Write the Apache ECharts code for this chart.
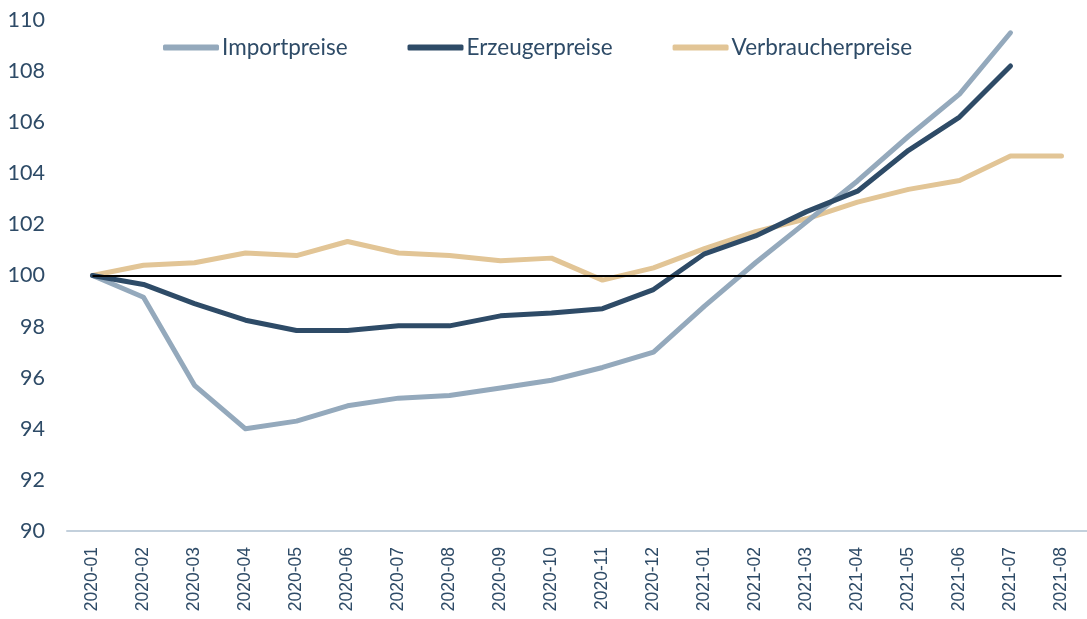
<!DOCTYPE html>
<html>
<head>
<meta charset="utf-8">
<script src="https://cdn.jsdelivr.net/npm/echarts@6/dist/echarts.min.js"></script>
<style>html,body{margin:0;padding:0;background:#fff}#c{width:1087px;height:619px}</style>
</head>
<body>
<div id="c"></div>
<script>
const categories = ['2020-01','2020-02','2020-03','2020-04','2020-05','2020-06','2020-07','2020-08','2020-09','2020-10','2020-11','2020-12','2021-01','2021-02','2021-03','2021-04','2021-05','2021-06','2021-07','2021-08'];
const importpreise = [100, 99.15, 95.7, 94.0, 94.3, 94.9, 95.2, 95.3, 95.6, 95.9, 96.4, 97.0, 98.8, 100.5, 102.1, 103.7, 105.45, 107.1, 109.5, null];
const erzeugerpreise = [100, 99.65, 98.9, 98.25, 97.85, 97.85, 98.03, 98.03, 98.42, 98.53, 98.7, 99.45, 100.85, 101.55, 102.5, 103.3, 104.9, 106.2, 108.2, null];
const verbraucherpreise = [100, 100.4, 100.5, 100.88, 100.78, 101.33, 100.88, 100.78, 100.58, 100.68, 99.82, 100.3, 101.05, 101.72, 102.22, 102.87, 103.37, 103.72, 104.68, 104.68];
const seriesNames = ['Importpreise','Erzeugerpreise','Verbraucherpreise'];
const yTicks = {min: 90, max: 110, interval: 2};

const colors = ['#94A9BC', '#2E4B67', '#E2C596'];
const textColor = '#2E4B67';
const chart = echarts.init(document.getElementById('c'), null, {renderer: 'canvas'});
const mk = (name, data, color, extra) => Object.assign({
  name, type: 'line', data, showSymbol: false, symbol: 'none',
  lineStyle: {width: 5, color, cap: 'round', join: 'round'},
  itemStyle: {color}, connectNulls: false, animation: false
}, extra || {});
chart.setOption({
  animation: false,
  color: colors,
  legend: {
    top: 31, left: 158,
    itemWidth: 56, itemHeight: 6, itemGap: 60,
    icon: 'roundRect',
    textStyle: {fontFamily: 'Lato', fontSize: 22.5, color: textColor, padding: [0,0,0,-2]},
    data: seriesNames
  },
  grid: {left: 67, right: -7, top: 20, bottom: 88, containLabel: false},
  xAxis: {
    type: 'category', data: categories, boundaryGap: true,
    axisLine: {lineStyle: {color: '#C3D0DC', width: 2}},
    axisTick: {show: false},
    axisLabel: {rotate: 90, interval: 0, margin: 16, fontFamily: 'Liberation Sans', fontSize: 17.5, color: textColor}
  },
  yAxis: {
    type: 'value', min: yTicks.min, max: yTicks.max, interval: yTicks.interval,
    axisLine: {show: false}, axisTick: {show: false}, splitLine: {show: false},
    axisLabel: {margin: 22, fontFamily: 'Lato', fontSize: 21.5, color: textColor}
  },
  series: [
    mk(seriesNames[0], importpreise, colors[0], {z: 2}),
    mk(seriesNames[1], erzeugerpreise, colors[1], {z: 3}),
    mk(seriesNames[2], verbraucherpreise, colors[2], {z: 1,
      markLine: {
        silent: true, symbol: 'none', label: {show: false},
        lineStyle: {color: '#000', width: 2, type: 'solid'},
        data: [[{coord: [categories[0], 100]}, {coord: [categories[categories.length-1], 100]}]]
      }
    })
  ]
});
</script>
</body>
</html>
